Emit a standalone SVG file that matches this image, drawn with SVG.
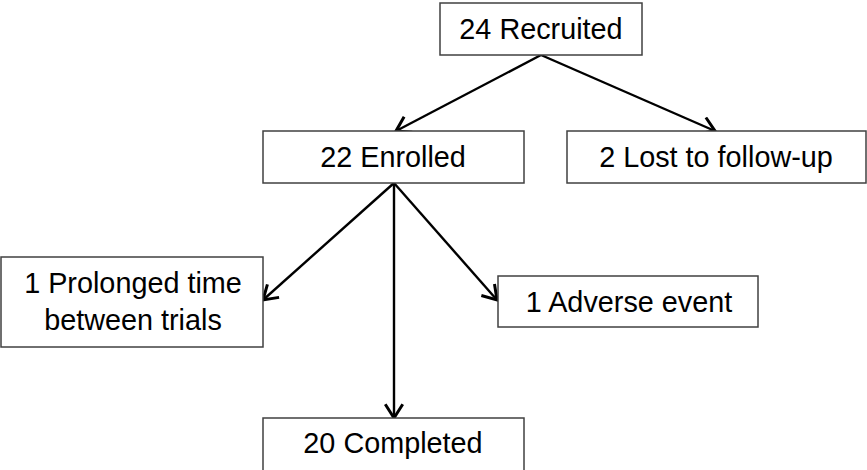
<svg xmlns="http://www.w3.org/2000/svg" width="867" height="470" viewBox="0 0 867 470">
<style>
.box{fill:#fff;stroke:#404040;stroke-width:1.5}
.lbl{font-family:"Liberation Sans",Arial,sans-serif;font-size:28.8px;fill:#000;text-anchor:middle}
.edge{stroke:#000;stroke-width:2.4;fill:none;marker-end:url(#arr)}
</style>
<defs>
<marker id="arr" markerUnits="userSpaceOnUse" markerWidth="20" markerHeight="20" viewBox="-12 -8 14 16" refX="0" refY="0" orient="auto">
<path d="M-11,-7 L0,0 L-11,7" fill="none" stroke="#000" stroke-width="2.4"/>
</marker>
</defs>
<rect width="867" height="470" fill="#fff"/>
<g id="connectors">
<line class="edge" x1="541" y1="55" x2="396" y2="131"/>
<line class="edge" x1="541" y1="55" x2="715" y2="131"/>
<line class="edge" x1="394" y1="183" x2="263" y2="300"/>
<line class="edge" x1="394" y1="183" x2="497" y2="300"/>
<line class="edge" x1="394" y1="183" x2="394" y2="418"/>
</g>
<g id="recruited"><rect class="box" x="440" y="3" width="202" height="52"/><text class="lbl" x="541" y="39">24 Recruited</text></g>
<g id="enrolled"><rect class="box" x="263" y="131" width="261" height="52"/><text class="lbl" x="393" y="167">22 Enrolled</text></g>
<g id="lost"><rect class="box" x="567" y="131" width="299" height="52"/><text class="lbl" x="716" y="167">2 Lost to follow-up</text></g>
<g id="prolonged"><rect class="box" x="1" y="257" width="262" height="90"/><text class="lbl" x="133" y="293">1 Prolonged time</text><text class="lbl" x="133" y="330">between trials</text></g>
<g id="adverse"><rect class="box" x="498" y="276" width="260" height="51"/><text class="lbl" x="629" y="312">1 Adverse event</text></g>
<g id="completed"><rect class="box" x="263" y="418" width="261" height="70"/><text class="lbl" x="393" y="453">20 Completed</text></g>
</svg>
